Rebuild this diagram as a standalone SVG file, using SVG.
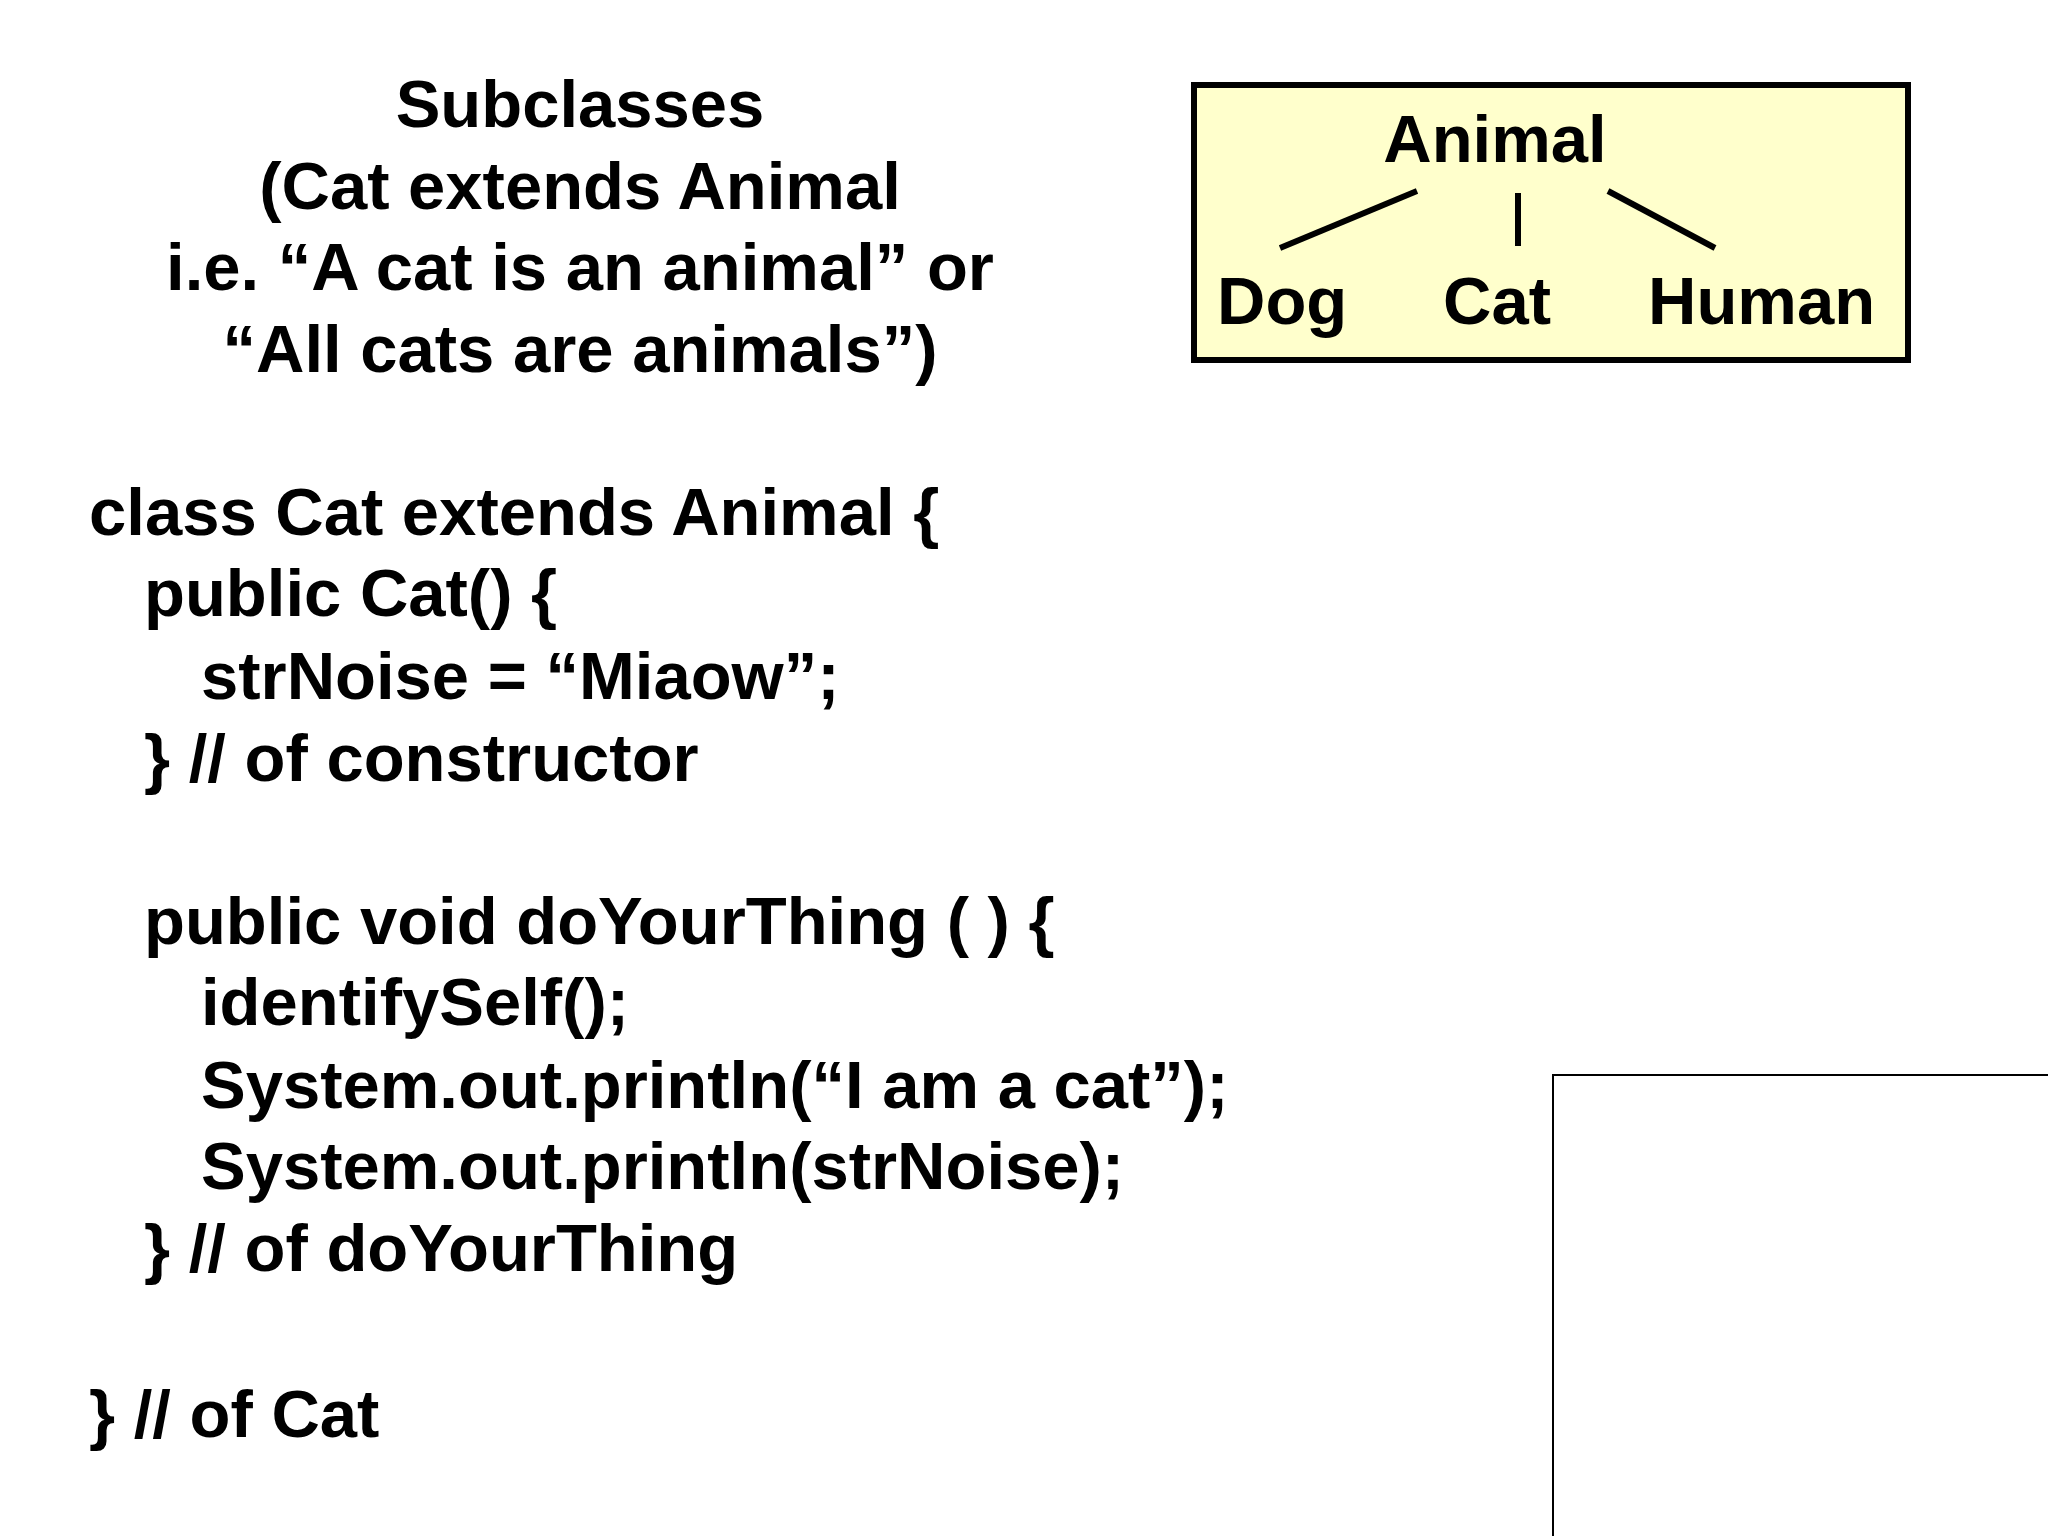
<svg xmlns="http://www.w3.org/2000/svg" width="2048" height="1536" viewBox="0 0 2048 1536" xml:space="preserve">
<style>
text{font-family:"Liberation Sans",Arial,sans-serif;font-weight:bold;font-size:67px;fill:#000}
.c{text-anchor:middle}
.ln{stroke:#000;stroke-width:6;fill:none}
</style>
<rect width="2048" height="1536" fill="#fff"/>
<g id="title">
<text class="c" x="580" y="127">Subclasses</text>
<text class="c" x="580" y="209">(Cat extends Animal</text>
<text class="c" x="580" y="290">i.e. “A cat is an animal” or</text>
<text class="c" x="580" y="372">“All cats are animals”)</text>
</g>
<g id="code">
<text x="89" y="535">class Cat extends Animal  {</text>
<text x="144" y="616">public Cat() {</text>
<text x="201" y="699">strNoise = “Miaow”;</text>
<text x="144" y="781">} // of constructor</text>
<text x="144" y="944">public void doYourThing ( )  {</text>
<text x="201" y="1025">identifySelf();</text>
<text x="201" y="1108">System.out.println(“I am a cat”);</text>
<text x="201" y="1189">System.out.println(strNoise);</text>
<text x="144" y="1271">}  // of doYourThing</text>
<text x="89" y="1437">} // of Cat</text>
</g>
<g id="hierarchy">
<rect x="1194" y="85" width="714" height="275" fill="#FFFFCC" stroke="#000" stroke-width="6"/>
<text class="c" x="1495" y="162">Animal</text>
<text x="1217" y="324">Dog</text>
<text x="1443" y="324">Cat</text>
<text x="1648" y="324">Human</text>
</g>
<g id="connectors">
<line class="ln" x1="1280" y1="248" x2="1417" y2="191"/>
<line class="ln" x1="1518" y1="193" x2="1518" y2="246"/>
<line class="ln" x1="1608" y1="191" x2="1715" y2="248"/>
</g>
<g id="emptybox">
<rect x="1553" y="1075" width="500" height="470" fill="none" stroke="#000" stroke-width="2"/>
</g>
</svg>
